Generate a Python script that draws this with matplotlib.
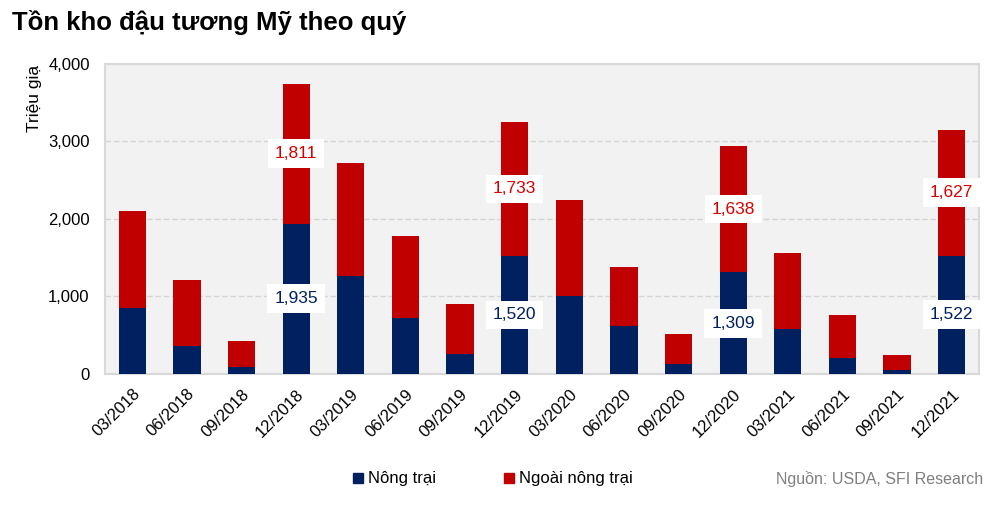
import matplotlib
matplotlib.use("Agg")
import matplotlib.pyplot as plt
from matplotlib.lines import Line2D
import numpy as np

plt.rcParams['font.family'] = ['Liberation Sans', 'DejaVu Sans']

quarters = ["03/2018", "06/2018", "09/2018", "12/2018", "03/2019", "06/2019", "09/2019", "12/2019",
            "03/2020", "06/2020", "09/2020", "12/2020", "03/2021", "06/2021", "09/2021", "12/2021"]
on_farm = [846, 362, 91, 1935, 1260, 721, 255, 1520, 1001, 621, 129, 1309, 583, 211, 52, 1522]
off_farm = [1255, 855, 336, 1811, 1463, 1057, 643, 1733, 1247, 755, 384, 1638, 975, 553, 194, 1627]
labeled = [3, 7, 11, 15]

navy = "#002060"
red = "#c00000"

fig = plt.figure(figsize=(10, 5.2), dpi=100)
ax = fig.add_axes([0.105, 0.281, 0.874, 0.596])
ax.set_facecolor("#f2f2f2")

x = np.arange(len(quarters))
ax.bar(x, on_farm, width=0.5, color=navy, zorder=3)
ax.bar(x, off_farm, width=0.5, bottom=on_farm, color=red, zorder=3)

for i in labeled:
    ax.text(x[i], on_farm[i] / 2, f"{on_farm[i]:,}", ha="center", va="center", fontsize=12.5,
            color=navy, zorder=5,
            bbox=dict(boxstyle="square,pad=0.4", fc="white", ec="none"))
    ax.text(x[i], on_farm[i] + off_farm[i] / 2, f"{off_farm[i]:,}", ha="center", va="center",
            fontsize=12.5, color="#d80000", zorder=5,
            bbox=dict(boxstyle="square,pad=0.4", fc="white", ec="none"))

ax.set_xlim(-0.5, 15.5)
ax.set_ylim(0, 4000)
ax.set_yticks([0, 1000, 2000, 3000, 4000])
ax.set_yticklabels([f"{v:,}" for v in [0, 1000, 2000, 3000, 4000]], fontsize=12)
ax.set_xticks(x)
ax.set_xticklabels(quarters, rotation=45, ha="right", rotation_mode="anchor", fontsize=12)
ax.tick_params(axis="both", length=0)
ax.tick_params(axis="y", pad=11)
ax.tick_params(axis="x", pad=9)
ax.yaxis.grid(True, color="#d4d4d4", linestyle=(0, (4, 2)), linewidth=1, zorder=0)
for s in ax.spines.values():
    s.set_color("#d9d9d9")
    s.set_linewidth(1.5)

fig.text(0.035, 0.875, "Triệu giạ", rotation=90, ha="center", va="top", fontsize=12.5)
fig.text(0.012, 0.957, "Tồn kho đậu tương Mỹ theo quý", fontsize=18.5, fontweight="bold",
         ha="left", va="center")

handles = [Line2D([], [], marker="s", linestyle="none", color=navy, markersize=7),
           Line2D([], [], marker="s", linestyle="none", color=red, markersize=7)]
fig.legend(handles, ["Nông trại", "Ngoài nông trại"], loc="center", bbox_to_anchor=(0.493, 0.079),
           ncol=2, frameon=False, fontsize=12, handlelength=0.6, handletextpad=0.3,
           columnspacing=4.1)
fig.text(0.983, 0.079, "Nguồn: USDA, SFI Research", ha="right", va="center", fontsize=11.5,
         color="#7f7f7f")

fig.savefig("out.png", dpi=100)
